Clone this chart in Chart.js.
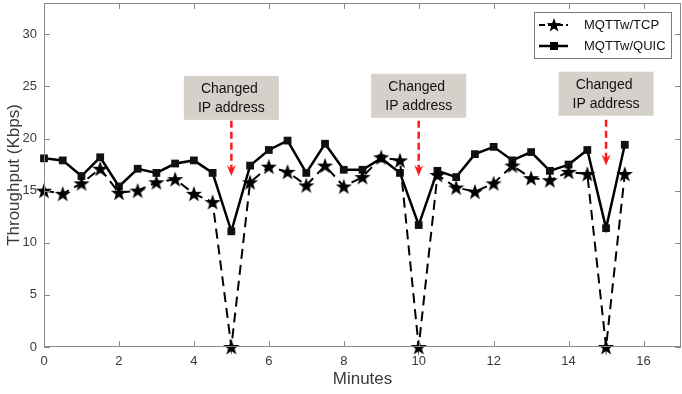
<!DOCTYPE html>
<html>
<head>
<meta charset="utf-8">
<script src="https://cdn.jsdelivr.net/npm/chart.js"></script>
<style>
  html, body { margin: 0; padding: 0; background: #fff; }
  canvas { display: block; }
</style>
</head>
<body>
<canvas id="chart" width="682" height="394"></canvas>
<script>
const minutes = [0, 0.5, 1, 1.5, 2, 2.5, 3, 3.5, 4, 4.5, 5, 5.5, 6, 6.5, 7, 7.5,
  8, 8.5, 9, 9.5, 10, 10.5, 11, 11.5, 12, 12.5, 13, 13.5, 14, 14.5, 15, 15.5];
const tcp = [15.0, 14.7, 15.7, 17.1, 14.8, 15.0, 15.8, 16.1, 14.7, 13.9, 0, 15.8,
  17.3, 16.8, 15.5, 17.4, 15.4, 16.3, 18.2, 17.9, 0, 16.5, 15.3, 14.9, 15.7, 17.4,
  16.2, 16.0, 16.8, 16.6, 0, 16.6];
const quic = [18.1, 17.9, 16.4, 18.2, 15.4, 17.1, 16.7, 17.6, 17.9, 16.7, 11.1, 17.4,
  18.9, 19.8, 16.7, 19.5, 17.0, 17.0, 18.1, 16.7, 11.7, 16.9, 16.3, 18.5, 19.2, 17.9,
  18.7, 16.9, 17.5, 18.9, 11.4, 19.4];
const xTicks = [0, 2, 4, 6, 8, 10, 12, 14, 16];
const yTicks = [0, 5, 10, 15, 20, 25, 30];

// "Changed IP address" notes: box centre and arrow span, in data units
const noteMinutes = [5, 10, 15];
const noteBoxY = [23.9, 24.1, 24.3];
const arrowFrom = [21.7, 21.7, 21.8];
const arrowTo = [16.4, 16.4, 17.4];
const noteLines = ["Changed", "IP address"];

const FONT = "'Liberation Sans', Arial, Helvetica, sans-serif";

function starPath(ctx, cx, cy, ro, ri) {
  ctx.beginPath();
  for (let i = 0; i < 10; i++) {
    const r = i % 2 === 0 ? ro : ri;
    const a = -Math.PI / 2 + i * Math.PI / 5;
    const px = cx + r * Math.cos(a), py = cy + r * Math.sin(a);
    if (i === 0) ctx.moveTo(px, py); else ctx.lineTo(px, py);
  }
  ctx.closePath();
}

const starImg = document.createElement("canvas");
starImg.width = 18;
starImg.height = 18;
{
  const c = starImg.getContext("2d");
  c.fillStyle = "#000";
  starPath(c, 9, 9.7, 8.5, 3.4);
  c.fill();
}

const framePlugin = {
  id: "frame",
  afterDraw(chart) {
    const { ctx, chartArea: a, scales: { x, y } } = chart;
    ctx.save();
    // axes box with inward ticks
    ctx.strokeStyle = "#8a8a8a";
    ctx.lineWidth = 1;
    ctx.strokeRect(a.left + 0.5, a.top + 0.5, a.right - a.left - 1, a.bottom - a.top - 1);
    ctx.beginPath();
    xTicks.forEach(v => {
      const px = Math.round(x.getPixelForValue(v)) + 0.5;
      ctx.moveTo(px, a.bottom); ctx.lineTo(px, a.bottom - 6);
      ctx.moveTo(px, a.top); ctx.lineTo(px, a.top + 6);
    });
    yTicks.forEach(v => {
      const py = Math.round(y.getPixelForValue(v)) + 0.5;
      ctx.moveTo(a.left, py); ctx.lineTo(a.left + 6, py);
      ctx.moveTo(a.right, py); ctx.lineTo(a.right - 6, py);
    });
    ctx.stroke();

    // notes
    noteMinutes.forEach((m, i) => {
      const cx = x.getPixelForValue(m);
      const cy = y.getPixelForValue(noteBoxY[i]);
      const w = 95, h = 44;
      ctx.fillStyle = "#d5d1ca";
      ctx.fillRect(cx - w / 2, cy - h / 2, w, h);
      ctx.fillStyle = "#111";
      ctx.font = "14px " + FONT;
      ctx.textAlign = "center";
      ctx.textBaseline = "middle";
      ctx.fillText(noteLines[0], cx - 2, cy - 9);
      ctx.fillText(noteLines[1], cx, cy + 10);

      const y0 = y.getPixelForValue(arrowFrom[i]);
      const y1 = y.getPixelForValue(arrowTo[i]);
      ctx.strokeStyle = "#ff1a1a";
      ctx.fillStyle = "#ff1a1a";
      ctx.lineWidth = 2.5;
      ctx.setLineDash([7, 4]);
      ctx.beginPath();
      ctx.moveTo(cx, y0); ctx.lineTo(cx, y1 - 6);
      ctx.stroke();
      ctx.setLineDash([]);
      ctx.beginPath();
      ctx.moveTo(cx - 4.5, y1 - 11);
      ctx.lineTo(cx, y1);
      ctx.lineTo(cx + 4.5, y1 - 11);
      ctx.lineTo(cx, y1 - 7);
      ctx.closePath();
      ctx.fill();
    });

    // legend
    const lx = 534.5, ly = 12.5, lw = 137, lh = 46;
    ctx.fillStyle = "#fff";
    ctx.fillRect(lx, ly, lw, lh);
    ctx.strokeStyle = "#7a7a7a";
    ctx.lineWidth = 1;
    ctx.strokeRect(lx, ly, lw, lh);
    const rows = [
      { label: "MQTTw/TCP", y: 25, dash: [6, 3] },
      { label: "MQTTw/QUIC", y: 46, dash: [] }
    ];
    rows.forEach((r, i) => {
      ctx.strokeStyle = "#000";
      ctx.lineWidth = i === 0 ? 2 : 2.5;
      ctx.setLineDash(r.dash);
      ctx.beginPath();
      ctx.moveTo(539, r.y); ctx.lineTo(568, r.y);
      ctx.stroke();
      ctx.setLineDash([]);
      ctx.fillStyle = "#000";
      if (i === 0) {
        starPath(ctx, 554, r.y + 0.5, 7.5, 3);
        ctx.fill();
      } else {
        ctx.fillRect(550, r.y - 4, 8, 8);
      }
      ctx.font = "13px " + FONT;
      ctx.textAlign = "left";
      ctx.textBaseline = "middle";
      ctx.fillStyle = "#111";
      ctx.fillText(r.label, 584, r.y);
    });
    ctx.restore();
  }
};

new Chart(document.getElementById("chart"), {
  type: "line",
  data: {
    datasets: [
      {
        label: "MQTTw/TCP",
        data: minutes.map((m, i) => ({ x: m, y: tcp[i] })),
        borderColor: "#000",
        borderWidth: 2,
        borderDash: [10, 6],
        pointStyle: starImg,
        pointRadius: 9,
        clip: false,
        tension: 0
      },
      {
        label: "MQTTw/QUIC",
        data: minutes.map((m, i) => ({ x: m, y: quic[i] })),
        borderColor: "#000",
        backgroundColor: "#000",
        borderWidth: 2.5,
        pointStyle: "rect",
        pointRadius: 5.5,
        pointBorderWidth: 0,
        pointBackgroundColor: "#111",
        clip: false,
        tension: 0
      }
    ]
  },
  options: {
    responsive: false,
    animation: false,
    layout: { autoPadding: false, padding: { top: 3, right: 1 } },
    plugins: { legend: { display: false }, tooltip: { enabled: false } },
    scales: {
      x: {
        type: "linear",
        min: 0,
        max: 17,
        afterBuildTicks: s => { s.ticks = xTicks.map(v => ({ value: v })); },
        afterFit: s => { s.height = 47; s.paddingLeft = 0; s.paddingRight = 0; },
        grid: { display: false, drawTicks: false },
        border: { display: false },
        ticks: { font: { family: FONT, size: 13 }, color: "#3a3a3a", padding: 7, maxRotation: 0 },
        title: { display: true, text: "Minutes", font: { family: FONT, size: 17 }, color: "#3a3a3a" }
      },
      y: {
        min: 0,
        max: 33,
        afterBuildTicks: s => { s.ticks = yTicks.map(v => ({ value: v })); },
        afterFit: s => { s.width = 44; s.paddingTop = 0; s.paddingBottom = 0; },
        grid: { display: false, drawTicks: false },
        border: { display: false },
        ticks: { font: { family: FONT, size: 13 }, color: "#3a3a3a", padding: 7 },
        title: { display: true, text: "Throughput (Kbps)", font: { family: FONT, size: 17 }, color: "#3a3a3a" }
      }
    }
  },
  plugins: [framePlugin]
});
</script>
</body>
</html>
